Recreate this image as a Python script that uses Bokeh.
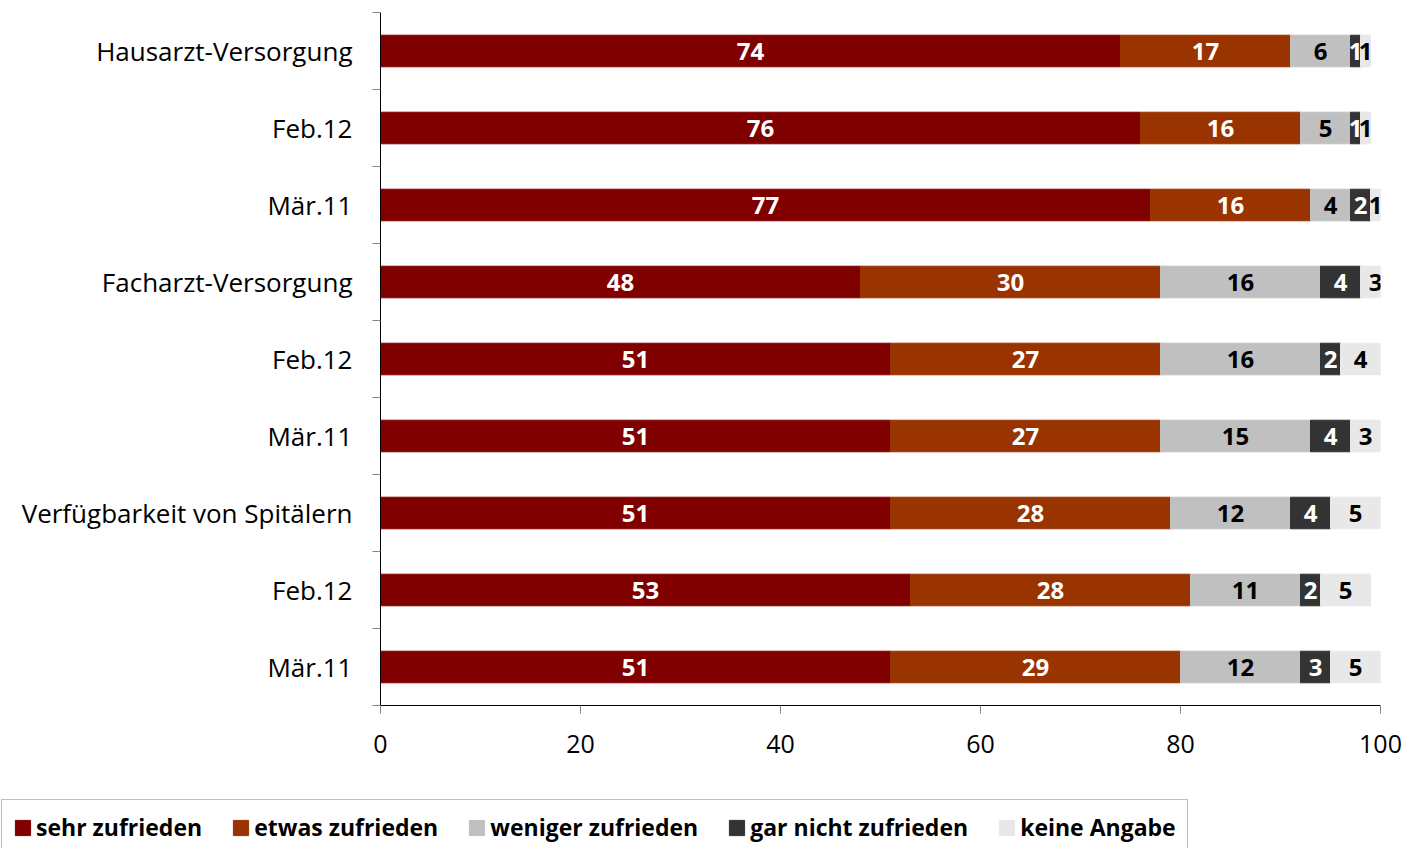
from bokeh.plotting import figure
from bokeh.layouts import column
from bokeh.models import ColumnDataSource, FixedTicker, Legend, LegendItem, Range1d
from bokeh.core.properties import value
from bokeh.embed import file_html
from bokeh.resources import INLINE

categories = ["Hausarzt-Versorgung", "Feb.12", "Mär.11",
              "Facharzt-Versorgung", "Feb.12", "Mär.11",
              "Verfügbarkeit von Spitälern", "Feb.12", "Mär.11"]
series = ["sehr zufrieden", "etwas zufrieden", "weniger zufrieden",
          "gar nicht zufrieden", "keine Angabe"]
sehr_zufrieden = [74, 76, 77, 48, 51, 51, 51, 53, 51]
etwas_zufrieden = [17, 16, 16, 30, 27, 27, 28, 28, 29]
weniger_zufrieden = [6, 5, 4, 16, 16, 15, 12, 11, 12]
gar_nicht_zufrieden = [1, 1, 2, 4, 2, 4, 4, 2, 3]
keine_angabe = [1, 1, 1, 3, 4, 3, 5, 5, 5]
x_ticks = [0, 20, 40, 60, 80, 100]

colors = ["#800000", "#993300", "#C0C0C0", "#333333", "#E8E8E8"]
label_colors = ["#FFFFFF", "#FFFFFF", "#000000", "#FFFFFF", "#000000"]
FONT = "Open Sans"

values = [sehr_zufrieden, etwas_zufrieden, weniger_zufrieden,
          gar_nicht_zufrieden, keine_angabe]
keys = ["s0", "s1", "s2", "s3", "s4"]
n = len(categories)
ypos = [n - i for i in range(n)]

data = {"y": ypos}
cum = [0] * n
for k, vals in zip(keys, values):
    data[k] = vals
    data["mid_" + k] = [c + v / 2 for c, v in zip(cum, vals)]
    data["lbl_" + k] = [str(v) for v in vals]
    cum = [c + v for c, v in zip(cum, vals)]
src = ColumnDataSource(data)

p = figure(width=1405, height=798, output_backend="svg", toolbar_location=None,
           x_range=Range1d(0, 100), y_range=Range1d(0.5, n + 0.5),
           min_border_left=380, min_border_right=25, min_border_top=12,
           min_border_bottom=93)
p.outline_line_color = None
p.xgrid.visible = False
p.ygrid.visible = False

renderers = p.hbar_stack(keys, y="y", height=0.41, color=colors, source=src)

for k, col in zip(keys, label_colors):
    p.text(x="mid_" + k, y="y", text="lbl_" + k, source=src,
           text_align="center", text_baseline="middle", text_color=col,
           text_font=value(FONT), text_font_style="bold", text_font_size="24px")

# x axis
xa = p.xaxis[0]
xa.ticker = FixedTicker(ticks=x_ticks)
xa.axis_line_color = "#000000"
xa.major_tick_line_color = "#868686"
xa.major_tick_out = 8
xa.major_tick_in = 0
xa.minor_tick_line_color = None
xa.major_label_text_font = FONT
xa.major_label_text_font_size = "25px"
xa.major_label_text_color = "#000000"
xa.major_label_standoff = 21

# y axis
ya = p.yaxis[0]
ya.ticker = FixedTicker(ticks=ypos, minor_ticks=[i + 0.5 for i in range(n + 1)])
ya.major_label_overrides = {y: c for y, c in zip(ypos, categories)}
ya.axis_line_color = "#000000"
ya.major_tick_line_color = None
ya.major_tick_out = 0
ya.major_tick_in = 0
ya.minor_tick_line_color = "#868686"
ya.minor_tick_out = 8
ya.minor_tick_in = 0
ya.major_label_text_font = FONT
ya.major_label_text_font_size = "26px"
ya.major_label_text_color = "#000000"
ya.major_label_standoff = 20

# legend strip (its ranges keep the swatch bars out of view)
lg = figure(width=1405, height=50, output_backend="svg", toolbar_location=None,
            x_range=Range1d(-10, -5), y_range=Range1d(-10, -5),
            x_axis_type=None, y_axis_type=None,
            min_border_left=0, min_border_right=0, min_border_top=0,
            min_border_bottom=0)
lg.outline_line_color = None
lg.xgrid.visible = False
lg.ygrid.visible = False
swatches = lg.hbar_stack(keys, y="y", height=0.41, color=colors, source=src)

for fig in (p, lg):
    try:
        fig.frame_align = False
    except Exception:
        pass

legend = Legend(items=[LegendItem(label=s, renderers=[r]) for s, r in zip(series, swatches)],
                orientation="horizontal", location="top_left",
                label_text_font=FONT, label_text_font_style="bold",
                label_text_font_size="23px", label_text_color="#000000",
                glyph_width=19, glyph_height=19,
                label_standoff=4, spacing=29, padding=11, margin=1,
                border_line_color="#808080", border_line_width=1,
                background_fill_color="#FFFFFF", background_fill_alpha=1)
lg.add_layout(legend, "center")

layout = column(p, lg, spacing=0)
open("out.html", "w").write(file_html(layout, INLINE))
